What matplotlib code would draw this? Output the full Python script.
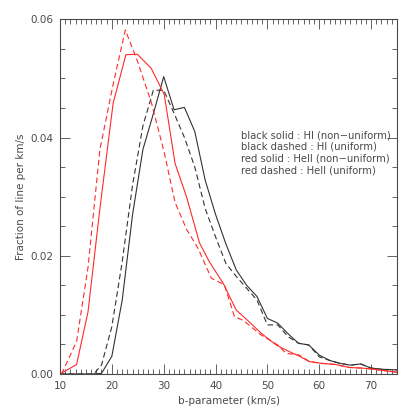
import matplotlib
matplotlib.use("Agg")
import matplotlib.pyplot as plt
from matplotlib.ticker import MultipleLocator

# ---- data ----
x_black_solid = [10, 16, 18, 20, 22, 24, 26, 28, 30, 32, 34, 36, 38, 40, 42, 44, 46, 48, 50, 52, 54,
                 56, 58, 60, 62, 64, 66, 68, 70, 72, 75]
y_black_solid = [0.0, 0.0, 0.0001, 0.003, 0.0125, 0.027, 0.038, 0.044, 0.0503, 0.0447, 0.0451, 0.041,
                 0.0328, 0.027, 0.022, 0.0176, 0.015, 0.0131, 0.0094, 0.0086, 0.0068, 0.0052, 0.0049,
                 0.0032, 0.0023, 0.0018, 0.0015, 0.0017, 0.001, 0.0008, 0.0007]

x_black_dashed = [10, 16.5, 18, 20, 22, 24, 26, 28, 30, 32, 34, 36, 38, 40, 42, 44, 46, 48, 50, 52, 54,
                  56, 58, 60, 62, 64, 66, 68, 70, 72, 75]
y_black_dashed = [0.0, 0.0, 0.0015, 0.008, 0.019, 0.032, 0.042, 0.048, 0.048, 0.0441, 0.040, 0.035,
                  0.028, 0.0232, 0.0187, 0.0165, 0.0145, 0.0125, 0.0083, 0.0083, 0.0063, 0.0052, 0.0049,
                  0.0029, 0.0023, 0.0018, 0.0015, 0.0017, 0.001, 0.0008, 0.0007]

x_red_solid = [10, 13.2, 15.4, 17.7, 20.25, 22.7, 24.9, 27.6, 30.1, 32.2, 34.4, 36.9, 38.8, 41.5, 44.0,
               46.4, 48.8, 51.7, 54.2, 56.2, 58.1, 60.5, 63.2, 65.8, 68.3, 70.5, 75]
y_red_solid = [0.0, 0.0016, 0.0105, 0.028, 0.0458, 0.054, 0.0541, 0.0517, 0.0473, 0.0356, 0.030, 0.0222,
               0.019, 0.0153, 0.0108, 0.0089, 0.0069, 0.0049, 0.0038, 0.003, 0.0021, 0.0018, 0.0016,
               0.0011, 0.001, 0.0008, 0.0003]

x_red_dashed = [10.3, 13.2, 15.4, 17.7, 20.25, 22.6, 24.9, 27.6, 30.1, 32.2, 34.4, 36.6, 39.2, 41.7, 43.65,
                45.3, 48.8, 52.0, 53.6, 56.2, 58.1, 60.5, 63.2, 65.8, 68.3, 70.5, 75]
y_red_dashed = [0.0, 0.0055, 0.018, 0.038, 0.049, 0.0582, 0.053, 0.046, 0.0375, 0.029, 0.0245, 0.0213,
                0.0162, 0.0151, 0.0097, 0.0091, 0.0066, 0.0049, 0.0035, 0.0032, 0.0021, 0.0018, 0.0016,
                0.0011, 0.001, 0.0008, 0.0003]

legend_lines = ["black solid : HI (non\u2212uniform)",
                "black dashed : HI (uniform)",
                "red solid : Hell (non\u2212uniform)",
                "red dashed : Hell (uniform)"]

x_ticks = [10, 20, 30, 40, 50, 60, 70]
y_ticks = [0.00, 0.02, 0.04, 0.06]
y_tick_labels = ["0.00", "0.02", "0.04", "0.06"]

# ---- figure ----
txt = "#4a4a4a"
fig = plt.figure(figsize=(4.15, 4.15), dpi=100)
ax = fig.add_axes([60 / 415, 1 - 374 / 415, 337 / 415, (374 - 19.3) / 415])

black = "#333333"
red = "#ff2a2a"
lw = 0.8
ax.plot(x_black_solid, y_black_solid, color=black, lw=lw)
ax.plot(x_black_dashed, y_black_dashed, color=black, lw=lw, dashes=(5, 3))
ax.plot(x_red_solid, y_red_solid, color=red, lw=lw)
ax.plot(x_red_dashed, y_red_dashed, color=red, lw=lw, dashes=(5, 3))

ax.set_xlim(10, 75)
ax.set_ylim(0, 0.06)
ax.set_xticks(x_ticks)
ax.set_yticks(y_ticks)
ax.set_yticklabels(y_tick_labels)
ax.xaxis.set_minor_locator(MultipleLocator(1))
ax.yaxis.set_minor_locator(MultipleLocator(0.005))
ax.tick_params(which="both", direction="in", top=True, right=True, colors=txt,
               labelsize=7.5, width=0.6)
ax.tick_params(which="major", length=7, pad=5)
ax.tick_params(which="minor", length=3.5)
for s in ax.spines.values():
    s.set_color(txt)
    s.set_linewidth(0.8)

ax.set_xlabel("b-parameter (km/s)", fontsize=7.5, color=txt, labelpad=4)
ax.set_ylabel("Fraction of line per km/s", fontsize=7.5, color=txt, labelpad=3)

for i, s in enumerate(legend_lines):
    ax.text(44.9, 0.0404 - i * 0.00197, s, fontsize=7.2, color=txt, va="center", ha="left")

fig.savefig("out.png", dpi=100)
